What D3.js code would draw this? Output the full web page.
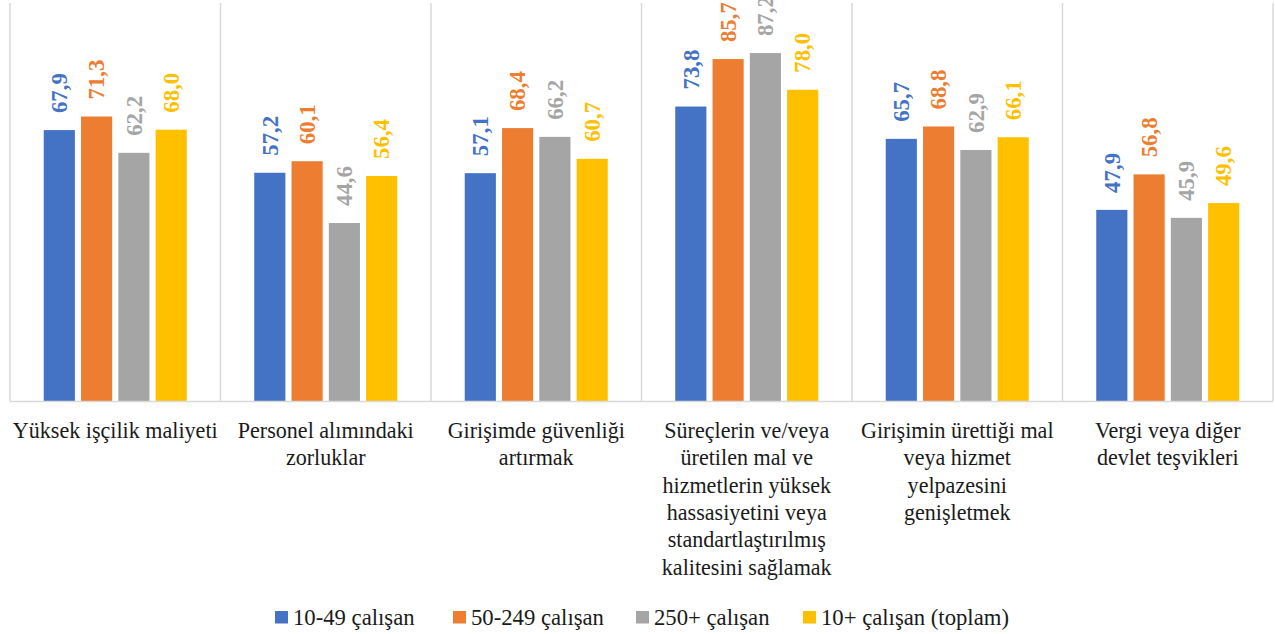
<!DOCTYPE html>
<html>
<head>
<meta charset="utf-8">
<script src="https://cdn.jsdelivr.net/npm/d3@7"></script>
<style>
  html, body { margin: 0; padding: 0; background: #fff; }
  svg { display: block; }
  .serif { font-family: "Liberation Serif", "DejaVu Serif", "Noto Serif", serif; }
</style>
</head>
<body>
<svg id="chart" width="1275" height="634"></svg>
<script>
// ---- Data ----
const categories = [
  "Yüksek işçilik maliyeti",
  "Personel alımındaki zorluklar",
  "Girişimde güvenliği artırmak",
  "Süreçlerin ve/veya üretilen mal ve hizmetlerin yüksek hassasiyetini veya standartlaştırılmış kalitesini sağlamak",
  "Girişimin ürettiği mal veya hizmet yelpazesini genişletmek",
  "Vergi veya diğer devlet teşvikleri"
];
const categoryLines = [
  ["Yüksek işçilik maliyeti"],
  ["Personel alımındaki", "zorluklar"],
  ["Girişimde güvenliği", "artırmak"],
  ["Süreçlerin ve/veya", "üretilen mal ve", "hizmetlerin yüksek", "hassasiyetini veya", "standartlaştırılmış", "kalitesini sağlamak"],
  ["Girişimin ürettiği mal", "veya hizmet", "yelpazesini", "genişletmek"],
  ["Vergi veya diğer", "devlet teşvikleri"]
];
const seriesNames = ["10-49 çalışan", "50-249 çalışan", "250+ çalışan", "10+ çalışan (toplam)"];
const s10_49   = [67.9, 57.2, 57.1, 73.8, 65.7, 47.9];
const s50_249  = [71.3, 60.1, 68.4, 85.7, 68.8, 56.8];
const s250     = [62.2, 44.6, 66.2, 87.2, 62.9, 45.9];
const sTotal   = [68.0, 56.4, 60.7, 78.0, 66.1, 49.6];
const seriesValues = [s10_49, s50_249, s250, sTotal];
const colors = ["#4472C4", "#ED7D31", "#A5A5A5", "#FFC000"];
const yDomain = [0, 100];

// ---- Layout ----
const svg = d3.select("#chart");
const plot = { left: 10, right: 1273, top: 2, bottom: 401 };

// fit font size so a sample text reaches a target width
function fitSize(sample, target, base, weight) {
  const t = svg.append("text").attr("class", "serif").attr("font-size", base)
    .attr("font-weight", weight || "normal").text(sample);
  const w = t.node().getComputedTextLength();
  t.remove();
  return base * target / w;
}
const labelSize = fitSize("Yüksek işçilik maliyeti", 205, 20);
const legendSize = fitSize("10+ çalışan (toplam)", 188, 20);
const valueSize = fitSize("67,9", 40, 22, "bold");

const x0 = d3.scaleBand().domain(categories).range([plot.left, plot.right]).paddingInner(0).paddingOuter(0);
const y = d3.scaleLinear().domain(yDomain).range([plot.bottom, plot.top]);
const groupW = 143;
const x1 = d3.scaleBand().domain(d3.range(seriesNames.length)).range([0, groupW]).paddingInner(0.165).paddingOuter(0);

// vertical separators
const sepX = categories.map(c => x0(c)).concat([plot.right]);
svg.append("g").selectAll("line").data(sepX).join("line")
  .attr("x1", d => d).attr("x2", d => d)
  .attr("y1", plot.top + 1).attr("y2", plot.bottom)
  .attr("stroke", "#D9D9D9").attr("stroke-width", 1.5);

// bars
const groups = svg.append("g").selectAll("g").data(categories).join("g")
  .attr("transform", (c) => `translate(${x0(c) + x0.bandwidth() / 2 - groupW / 2},0)`);

groups.each(function(c, ci) {
  const g = d3.select(this);
  const data = seriesValues.map((vals, si) => ({ si, v: vals[ci] }));
  g.selectAll("rect").data(data).join("rect")
    .attr("x", d => x1(d.si))
    .attr("width", x1.bandwidth())
    .attr("y", d => y(d.v))
    .attr("height", d => y(0) - y(d.v))
    .attr("fill", d => colors[d.si]);
  g.selectAll("text").data(data).join("text")
    .attr("class", "serif")
    .attr("transform", d => `translate(${x1(d.si) + x1.bandwidth() / 2 + valueSize * 0.34},${y(d.v) - 17}) rotate(-90)`)
    .attr("font-size", valueSize)
    .attr("font-weight", "bold")
    .attr("fill", d => colors[d.si])
    .attr("text-anchor", "start")
    .text(d => d.v.toFixed(1).replace(".", ","));
});

// baseline
svg.append("line")
  .attr("x1", plot.left).attr("x2", plot.right)
  .attr("y1", plot.bottom + 0.5).attr("y2", plot.bottom + 0.5)
  .attr("stroke", "#D9D9D9").attr("stroke-width", 1.5);

// category labels
const xAxis = d3.axisBottom(x0).tickSize(0).tickFormat("");
const axG = svg.append("g").attr("transform", `translate(0,${plot.bottom})`).call(xAxis);
axG.select(".domain").remove();
axG.selectAll(".tick").each(function(c, i) {
  const t = d3.select(this).append("text")
    .attr("class", "serif")
    .attr("font-size", labelSize)
    .attr("fill", "#1a1a1a")
    .attr("text-anchor", "middle")
    .attr("y", 37);
  categoryLines[i].forEach((line, li) => {
    t.append("tspan").attr("x", 0).attr("dy", li === 0 ? 0 : 27.3).text(line);
  });
});

// legend
const legendItemsX = [275, 453, 636, 803];
const leg = svg.append("g").selectAll("g").data(seriesNames).join("g")
  .attr("transform", (d, i) => `translate(${legendItemsX[i]},617)`);
leg.append("rect").attr("x", 0).attr("y", -6).attr("width", 13).attr("height", 12.5).attr("fill", (d, i) => colors[i]);
leg.append("text").attr("class", "serif").attr("x", 18).attr("y", 0).attr("dy", "0.35em")
  .attr("font-size", legendSize).attr("fill", "#1a1a1a")
  .text(d => d);
</script>
</body>
</html>
